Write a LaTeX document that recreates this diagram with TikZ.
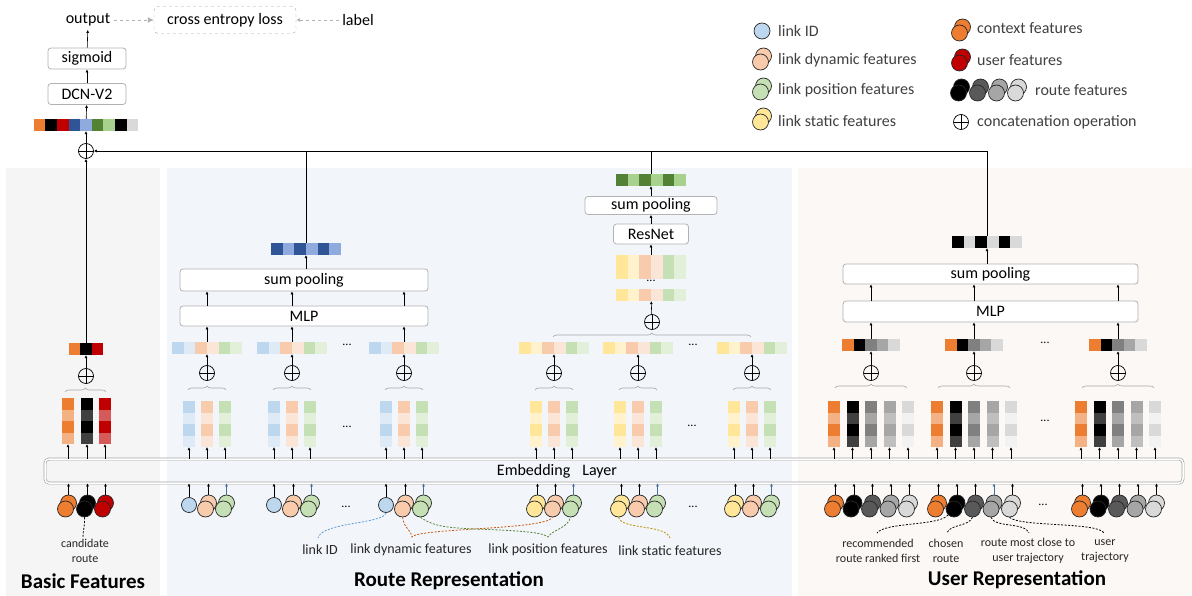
\documentclass[tikz,border=0pt]{standalone}
\usepackage{fontspec}
\setmainfont{Carlito}
\usepackage{tikz}
\usetikzlibrary{positioning}
\usetikzlibrary{arrows.meta}
\usetikzlibrary{decorations.pathreplacing}

\definecolor{klid}{HTML}{BDD7EE}
\definecolor{klidl}{HTML}{DEEBF7}
\definecolor{kdyn}{HTML}{F8CBAD}
\definecolor{kdynl}{HTML}{FBE5D6}
\definecolor{kpos}{HTML}{C5E0B4}
\definecolor{kposl}{HTML}{E2F0D9}
\definecolor{ksta}{HTML}{FFE699}
\definecolor{kstal}{HTML}{FFF2CC}
\definecolor{kctx}{HTML}{ED7D31}
\definecolor{kctxl}{HTML}{F4B183}
\definecolor{kusr}{HTML}{C00000}
\definecolor{kusrl}{HTML}{D65A5A}
\definecolor{kblkl}{HTML}{404040}
\definecolor{kgra}{HTML}{808080}
\definecolor{kgral}{HTML}{A6A6A6}
\definecolor{kgrb}{HTML}{A6A6A6}
\definecolor{kgrbl}{HTML}{BFBFBF}
\definecolor{kgrc}{HTML}{D9D9D9}
\definecolor{kgrcl}{HTML}{F2F2F2}
\definecolor{kcira}{HTML}{595959}
\definecolor{kcirb}{HTML}{A6A6A6}
\definecolor{kcirc}{HTML}{D9D9D9}
\definecolor{kdblue}{HTML}{2F5597}
\definecolor{klblue}{HTML}{8FAADC}
\definecolor{kdgreen}{HTML}{548235}
\definecolor{klgreen}{HTML}{A9D18E}
\definecolor{karblue}{HTML}{41719C}
\definecolor{dashblue}{HTML}{5B9BD5}
\definecolor{dashorange}{HTML}{C55A11}
\definecolor{dashgreen}{HTML}{548235}
\definecolor{dashyellow}{HTML}{BF9000}
\definecolor{pnlb}{HTML}{F5F5F5}
\definecolor{pnlr}{HTML}{F2F5FA}
\definecolor{pnlu}{HTML}{FCF8F5}

\tikzset{
  arr/.style={-{Latex[length=3pt,width=3pt]}, line width=0.6pt},
  txt/.style={font=\fontsize{16}{18}\selectfont},
  blk/.style={draw=black!30, line width=0.8pt, rounded corners=3pt, fill=white, inner sep=0pt, txt},
  oplus/.style={circle, draw, line width=0.7pt, minimum size=15pt, inner sep=0pt,
    path picture={\draw[line width=0.7pt] (path picture bounding box.north) -- (path picture bounding box.south)
      (path picture bounding box.west) -- (path picture bounding box.east);}},
  brc/.style={draw=black!35, line width=0.6pt, decorate, decoration={brace, amplitude=4pt}},
  feat/.style={circle, draw=black!85, line width=0.7pt, minimum size=16pt, inner sep=0pt},
  dots/.style={font=\fontsize{12}{12}\selectfont},
  lbl/.style={font=\fontsize{14}{16}\selectfont, text=black!85},
  sml/.style={font=\fontsize{12}{15}\selectfont, text=black!85, align=center},
  leg/.style={font=\fontsize{16}{18}\selectfont, text=black!75, anchor=west, inner sep=0pt},
  ttl/.style={font=\fontsize{21}{23}\selectfont\bfseries},
  dsh/.style={line width=0.8pt, dash pattern=on 2pt off 1.5pt},
}

\newcommand{\vcol}[5]{%
  \fill[#4] (#2-6,#3) rectangle (#2+6,#3+11.5);
  \fill[#5] (#2-6,#3+11.5) rectangle (#2+6,#3+23);
  \fill[#4] (#2-6,#3+23) rectangle (#2+6,#3+34.5);
  \fill[#5] (#2-6,#3+34.5) rectangle (#2+6,#3+46);
  \node[inner sep=0pt, minimum width=12pt, minimum height=46pt] (#1) at (#2,#3+23) {};
  \draw[arr] (#1.south |- emb.north) -- (#1.south);
}
\newcommand{\hvec}[5]{%
  \foreach \cc [count=\k] in {#5} {\xdef\nvec{\k}}%
  \foreach \cc [count=\k from 0] in {#5}
    \fill[\cc] ({#2-\nvec*5.8+\k*11.6},#3) rectangle ++(11.6,#4);
  \node[inner sep=0pt, minimum width=\nvec*11.6pt, minimum height=#4pt] (#1) at (#2,#3+#4/2) {};
}
\newcommand{\pin}[4][black]{%
  \node[feat, fill=#4] (#2b) at (#3+1.5,503) {};
  \node[feat, fill=#4] (#2) at (#3-1.5,509) {};
  \draw[arr, draw=#1] (#2b.north) -- (#2b.north |- emb.south);
}
\newcommand{\onein}[3]{%
  \node[feat, minimum size=15pt, fill=#3] (#1) at (#2,505) {};
  \draw[arr] (#1.north) -- (#1.north |- emb.south);
}
\newcommand{\lpair}[4]{%
  \node[feat, fill=#4] (#1b) at (#2+1.5,#3-3) {};
  \node[feat, fill=#4] (#1) at (#2-1.5,#3+3) {};
}

\begin{document}
\begin{tikzpicture}[x=1pt, y=-1pt]
  \useasboundingbox (0,0) rectangle (1192,596);
  \fill[pnlb] (6,168) rectangle (160,596);
  \fill[pnlr] (167,168) rectangle (792,596);
  \fill[pnlu] (798,168) rectangle (1192,596);

  \node[draw=black!35, double=white, double distance=1.5pt, line width=0.7pt, rounded corners=4pt, minimum width=1138pt, minimum height=24pt, inner sep=0pt] (emb) at (614,471) {};
  \node[txt] (embt) at (557,471) {Embedding\hspace{12pt}Layer};

  \node[txt] (out) at (88,20) {output};
  \node[draw=black!35, dashed, rounded corners=4pt, minimum width=142pt, minimum height=27pt, inner sep=0pt, txt] (loss) at (225,20) {cross entropy loss};
  \node[txt] (lab) at (358,20) {label};
  \draw[black!30, dashed, line width=0.8pt, -{Latex[length=6pt,width=6pt]}] (out) -- (loss);
  \draw[black!30, dashed, line width=0.8pt, -{Latex[length=4pt,width=4pt]}] (lab) -- (loss);
  \node[blk, minimum width=78pt, minimum height=21pt] (sig) at (87,58.5) {sigmoid};
  \node[blk, minimum width=78pt, minimum height=21pt] (dcn) at (87,94) {DCN-V2};
  \hvec{cvec}{86}{119}{12}{kctx,black,kusr,kdblue,klblue,kdgreen,klgreen,black,kgrc}
  \node[oplus] (topplus) at (86,151) {};
  \draw[arr] (topplus) -- (cvec);
  \draw[arr] (cvec) -- (dcn);
  \draw[arr] (dcn) -- (sig);
  \draw[arr] (sig) -- (out);

  \node[feat, fill=klid] (glid) at (762,31) {};
  \node[leg] (tglid) at (778,31) {link ID};
  \lpair{gdyn}{762}{59}{kdyn}
  \node[leg] (tgdyn) at (778,60) {link dynamic features};
  \lpair{gpos}{762}{89}{kpos}
  \node[leg] (tgpos) at (778,90) {link position features};
  \lpair{gsta}{762}{119}{ksta}
  \node[leg] (tgsta) at (778,121) {link static features};
  \lpair{gctx}{961}{30}{kctx}
  \node[leg] (tgctx) at (977,28) {context features};
  \lpair{gusr}{961}{60}{kusr}
  \node[leg] (tgusr) at (977,60) {user features};
  \lpair{grt1}{960}{90}{black}
  \lpair{grt2}{979}{90}{kcira}
  \lpair{grt3}{998}{90}{kcirb}
  \lpair{grt4}{1017}{90}{kcirc}
  \node[leg] (tgrt) at (1035,90) {route features};
  \node[oplus] (gplus) at (961,122) {};
  \node[leg] (tgplus) at (977,122) {concatenation operation};

  \pin{bctx}{67}{kctx}
  \pin{bblk}{86}{black}
  \pin{busr}{104}{kusr}
  \vcol{cbctx}{68}{398}{kctx}{kctxl}
  \vcol{cbblk}{87}{398}{black}{kblkl}
  \vcol{cbusr}{105}{398}{kusr}{kusrl}
  \draw[brc] (65,392) -- (106,392);
  \node[oplus] (plB) at (86,376) {};
  \hvec{bvec}{86}{343}{12}{kctx,black,kusr}
  \draw[arr] (plB) -- (bvec);
  \draw[arr] (bvec) -- (topplus);
  \coordinate (qcand) at (83,537);
  \draw[dsh] (bblk.south) .. controls (85,526) and (83,530) .. (qcand);
  \node[sml] (tcand) at (85,551) {candidate\\route};

  \node[blk, minimum width=248pt, minimum height=20pt] (mlpA) at (304,316) {MLP};
  \node[blk, minimum width=248pt, minimum height=22pt] (poolA) at (304,280) {sum pooling};
  \foreach \g/\c in {1/207,2/292,3/404} {
    \onein{lid\g}{\c-18}{klid}
    \pin{dyn\g}{\c}{kdyn}
    \pin[karblue]{pos\g}{\c+18}{kpos}
    \vcol{clid\g}{\c-18}{401}{klid}{klidl}
    \vcol{cdyn\g}{\c}{401}{kdyn}{kdynl}
    \vcol{cpos\g}{\c+18}{401}{kpos}{kposl}
    \draw[brc] (\c-19,390) -- (\c+19,390);
    \node[oplus] (plA\g) at (\c,373) {};
    \hvec{vA\g}{\c}{342}{12}{klid,klidl,kdyn,kdynl,kpos,kposl}
    \draw[arr] (plA\g) -- (vA\g);
    \draw[arr] (vA\g) -- (vA\g |- mlpA.south);
    \draw[arr] (vA\g |- mlpA.north) -- (vA\g |- poolA.south);
  }
  \node[dots] (dA1) at (347,345) {...};
  \node[dots] (dA2) at (347,427) {...};
  \node[dots] (dA3) at (346,507) {...};
  \hvec{rvec}{306}{243}{12}{kdblue,klblue,kdblue,klblue,kdblue,klblue}
  \draw[arr] (rvec.south |- poolA.north) -- (rvec);

  \foreach \g/\c in {4/554,5/638,6/752} {
    \pin{sta\g}{\c-18}{ksta}
    \pin{dyn\g}{\c}{kdyn}
    \pin[karblue]{pos\g}{\c+18}{kpos}
    \vcol{csta\g}{\c-18}{401}{ksta}{kstal}
    \vcol{cdyn\g}{\c}{401}{kdyn}{kdynl}
    \vcol{cpos\g}{\c+18}{401}{kpos}{kposl}
    \draw[brc] (\c-19,390) -- (\c+19,390);
    \node[oplus] (plA\g) at (\c,373) {};
    \hvec{vA\g}{\c}{342}{12}{ksta,kstal,kdyn,kdynl,kpos,kposl}
    \draw[arr] (plA\g) -- (vA\g);
  }
  \node[dots] (dR1) at (693,345) {...};
  \node[dots] (dR2) at (692,426) {...};
  \node[dots] (dR3) at (693,507) {...};
  \draw[brc] (553,337) -- (751,337);
  \node[oplus] (plR) at (652,322) {};
  \hvec{svec}{651}{289}{12}{ksta,kstal,kdyn,kdynl,kpos,kposl}
  \node[dots] (dR4) at (651,281) {...};
  \hvec{tvec}{651}{255}{24}{ksta,kstal,kdyn,kdynl,kpos,kposl}
  \node[blk, minimum width=75pt, minimum height=20pt] (res) at (651,234) {ResNet};
  \node[blk, minimum width=132pt, minimum height=18pt] (poolR) at (651,205.5) {sum pooling};
  \hvec{gvec}{651}{174}{12}{kdgreen,klgreen,kdgreen,klgreen,kdgreen,klgreen}
  \draw[arr] (plR) -- (svec);
  \draw[arr] (tvec) -- (res);
  \draw[arr] (res) -- (poolR);
  \draw[arr] (poolR) -- (gvec);

  \coordinate (qlid) at (318,538);
  \draw[dsh, dashblue] (lid3.south) .. controls (384,524) and (322,522) .. (qlid);
  \coordinate (qdyn) at (412,537);
  \draw[dsh, dashorange] (dyn3.south) .. controls (405,530) and (410,528) .. (qdyn) .. controls (418,528) and (545,530) .. (dyn4.south);
  \coordinate (qpos) at (548,537);
  \draw[dsh, dashgreen] (pos3.south) .. controls (436,528) and (450,528) .. (500,530) .. controls (538,532) and (544,534) .. (qpos) .. controls (552,530) and (568,528) .. (pos4.south);
  \coordinate (qsta) at (670,538);
  \draw[dsh, dashyellow] (sta5.south) .. controls (622,530) and (665,524) .. (qsta);
  \node[lbl] (tlid) at (320,550) {link ID};
  \node[lbl] (tdyn) at (411,550) {link dynamic features};
  \node[lbl] (tpos) at (548,550) {link position features};
  \node[lbl] (tsta) at (670,551) {link static features};

  \node[blk, minimum width=295pt, minimum height=21pt] (mlpU) at (990.5,311.5) {MLP};
  \node[blk, minimum width=295pt, minimum height=20pt] (poolU) at (990.5,274) {sum pooling};
  \foreach \g/\c/\a in {1/871/black,2/974/karblue,3/1118/black} {
    \pin{uctx\g}{\c-37}{kctx}
    \pin{ublk\g}{\c-18.5}{black}
    \pin{ura\g}{\c}{kcira}
    \pin[\a]{urb\g}{\c+18.5}{kcirb}
    \pin{urc\g}{\c+37}{kcirc}
    \vcol{cuctx\g}{\c-37}{401}{kctx}{kctxl}
    \vcol{cublk\g}{\c-18.5}{401}{black}{kblkl}
    \vcol{cura\g}{\c}{401}{kgra}{kgral}
    \vcol{curb\g}{\c+18.5}{401}{kgrb}{kgrbl}
    \vcol{curc\g}{\c+37}{401}{kgrc}{kgrcl}
    \draw[brc] (\c-36,388) -- (\c+36,388);
    \node[oplus] (plU\g) at (\c,373) {};
    \hvec{vU\g}{\c}{339}{12}{kctx,black,kgra,kgrb,kgrc}
    \draw[arr] (plU\g) -- (vU\g);
    \draw[arr] (vU\g) -- (vU\g |- mlpU.south);
    \draw[arr] (vU\g |- mlpU.north) -- (vU\g |- poolU.south);
  }
  \node[dots] (dU1) at (1045,343) {...};
  \node[dots] (dU2) at (1045,421) {...};
  \node[dots] (dU3) at (1043,505) {...};
  \hvec{uvec}{987}{236}{12}{black,kgrc,black,kgrc,black,kgrc}
  \draw[arr] (uvec.south |- poolU.north) -- (uvec);

  \coordinate (qrec) at (877,533);
  \draw[dsh] (ublk2.south west) .. controls (940,526) and (885,522) .. (qrec);
  \coordinate (qcho) at (947,533);
  \draw[dsh] (ura2.south) .. controls (968,527) and (950,524) .. (qcho);
  \coordinate (qclo) at (1029,533);
  \draw[dsh] (urb2.south) .. controls (995,528) and (1025,522) .. (qclo);
  \coordinate (qtra) at (1104,533);
  \draw[dsh] (urc2.south) .. controls (1020,527) and (1098,522) .. (qtra);
  \node[sml] (trec) at (878,551) {recommended\\route ranked first};
  \node[sml] (tcho) at (946,551) {chosen\\route};
  \node[sml] (tclo) at (1028,551) {route most close to\\user trajectory};
  \node[sml] (ttra) at (1105,551) {user\\trajectory};

  \draw[line width=0.6pt] (rvec) -- (rvec |- topplus);
  \draw[line width=0.6pt] (gvec) -- (gvec |- topplus);
  \draw[arr] (uvec) |- (topplus);

  \node[ttl] (tb) at (83,581) {Basic Features};
  \node[ttl] (tr) at (449,581) {Route Representation};
  \node[ttl] (tu) at (1017,580) {User Representation};
\end{tikzpicture}
\end{document}
